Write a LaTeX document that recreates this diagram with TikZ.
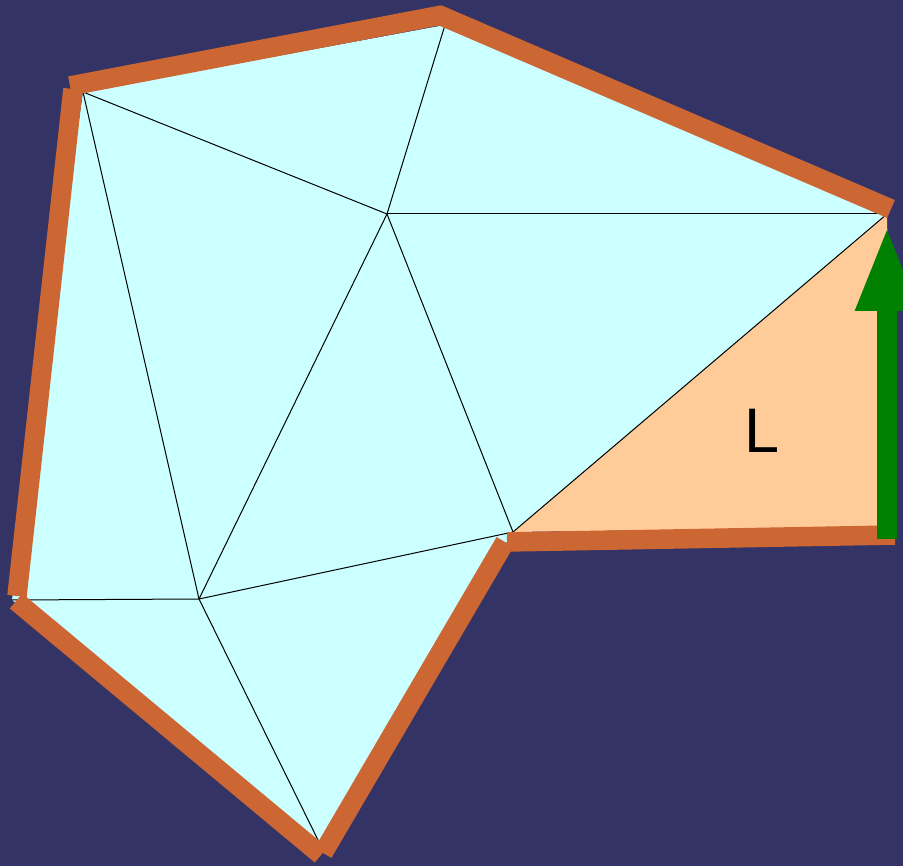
\documentclass[tikz,border=0pt]{standalone}
\usepackage{fontspec}
\setsansfont{Liberation Sans}
\usepackage{xcolor}
\usetikzlibrary{arrows.meta}
\definecolor{cBg}{HTML}{333366}
\definecolor{cMesh}{HTML}{CCFFFF}
\definecolor{cRim}{HTML}{CC6633}
\definecolor{cEar}{HTML}{FFCC99}
\definecolor{cDir}{HTML}{008000}
\tikzset{
  rim/.style={cRim,line width=19.5pt,line cap=butt},
  meshedge/.style={black,line width=1pt},
  dirarrow/.style={cDir,line width=20pt,
              -{Triangle[length=85pt,width=58pt]}},
  earlabel/.style={inner sep=0pt,font=\sffamily\fontsize{63}{63}\selectfont},
}

\begin{document}
\begin{tikzpicture}[x=1pt,y=-1pt]
  \fill[cBg] (0,0) rectangle (903,866);
  \useasboundingbox (0,0) rectangle (903,866);
  % vertices of the triangulated polygon
  \coordinate (a) at (83,92);
  \coordinate (b) at (445,25);
  \coordinate (c) at (887,214);
  \coordinate (d) at (387,214);
  \coordinate (e) at (513,532);
  \coordinate (f) at (892,527);
  \coordinate (g) at (12,600);
  \coordinate (h) at (199,599);
  \coordinate (i) at (319,842);
  % ends of the boundary strokes
  \coordinate (ab1) at (70,86);   \coordinate (ab2) at (442,15);
  \coordinate (bc1) at (437,14);  \coordinate (bc2) at (891,209);
  \coordinate (ef1) at (507,542); \coordinate (ef2) at (895,535);
  \coordinate (ie1) at (323,853); \coordinate (ie2) at (505,542);
  \coordinate (gi1) at (16,601);  \coordinate (gi2) at (321,855);
  \coordinate (ga1) at (17,596);  \coordinate (ga2) at (73,89);
  \coordinate (tail) at (887,539);
  \coordinate (tip) at (887,226);
  % faces
  \fill[cMesh] (a)--(b)--(c)--(e)--(i)--(g)--cycle;
  \fill[cEar] (c)--(e)--(f)--cycle;
  % triangulation
  \draw[meshedge] (a)--(d);
  \draw[meshedge] (b)--(d);
  \draw[meshedge] (d)--(c);
  \draw[meshedge] (a)--(h);
  \draw[meshedge] (d)--(h);
  \draw[meshedge] (d)--(e);
  \draw[meshedge] (c)--(e);
  \draw[meshedge] (h)--(e);
  \draw[meshedge] (g)--(h);
  \draw[meshedge] (h)--(i);
  % boundary
  \draw[rim] (ab1)--(ab2);
  \draw[rim] (bc1)--(bc2);
  \draw[rim] (ef1)--(ef2);
  \draw[rim] (ie1)--(ie2);
  \draw[rim] (gi1)--(gi2);
  \draw[rim] (ga1)--(ga2);
  \node[earlabel] (lbl) at (762,431) {L};
  \draw[dirarrow] (tail)--(tip);
\end{tikzpicture}
\end{document}
